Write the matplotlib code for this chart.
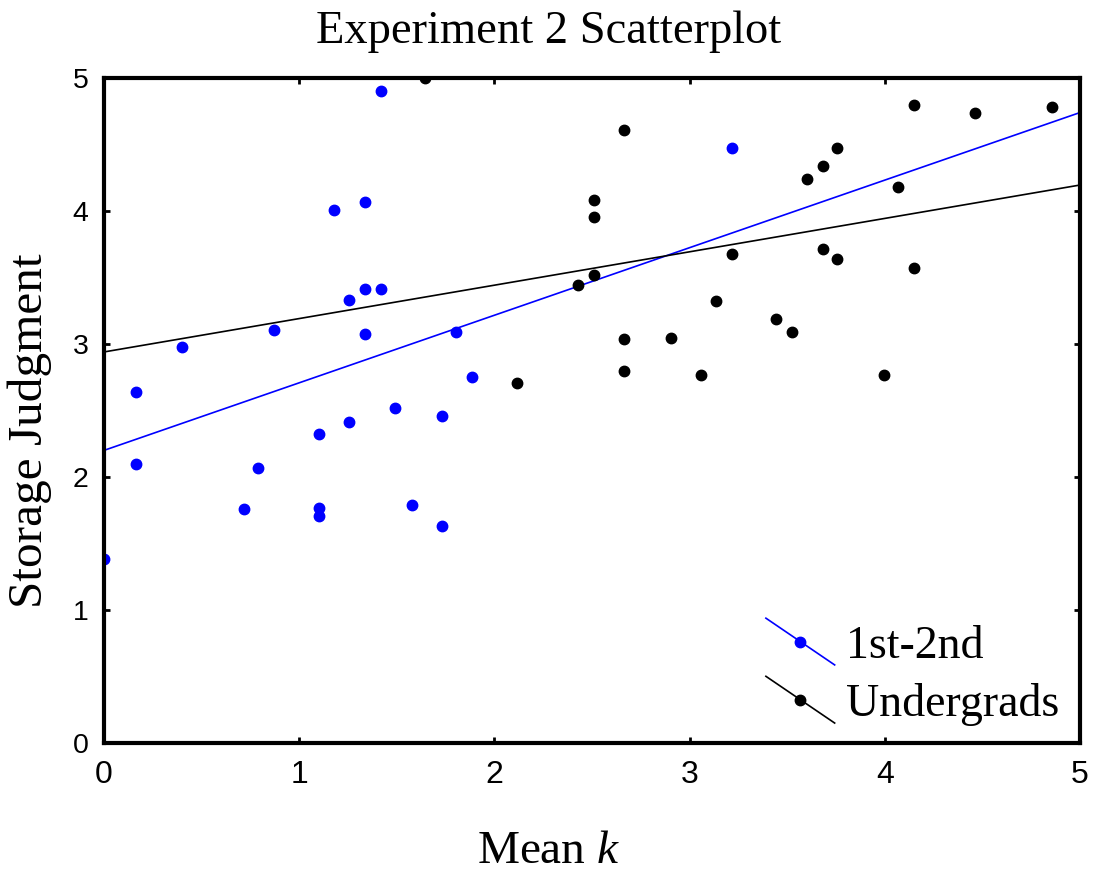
import numpy as np
import matplotlib
matplotlib.use("Agg")
import matplotlib.pyplot as plt
from matplotlib.lines import Line2D
from matplotlib.legend_handler import HandlerBase

# ----------------------------------------------------------------------
# data (Mean k, Storage Judgment)
# ----------------------------------------------------------------------
young_k = [0.0, 0.164, 0.164, 0.40, 0.716, 0.787, 0.871, 1.10, 1.10, 1.10,
           1.18, 1.255, 1.255, 1.337, 1.337, 1.337, 1.42, 1.42, 1.492, 1.576,
           1.73, 1.73, 1.805, 1.887, 3.216]
young_judg = [1.385, 2.64, 2.10, 2.975, 1.76, 2.07, 3.105, 2.32, 1.765, 1.707,
              4.01, 3.33, 2.41, 4.07, 3.41, 3.075, 4.90, 3.41, 2.52, 1.79,
              2.46, 1.63, 3.09, 2.754, 4.476]

ugrad_k = [1.645, 2.117, 2.428, 2.51, 2.51, 2.51, 2.666, 2.666, 2.666, 2.903,
           3.06, 3.134, 3.216, 3.444, 3.526, 3.60, 3.683, 3.683, 3.757, 3.757,
           3.994, 4.07, 4.151, 4.151, 4.46, 4.855]
ugrad_judg = [5.0, 2.71, 3.44, 4.083, 3.953, 3.516, 4.607, 3.035, 2.80, 3.047,
              2.77, 3.325, 3.674, 3.19, 3.09, 4.243, 4.34, 3.717, 4.476, 3.641,
              2.77, 4.18, 4.80, 3.57, 4.74, 4.785]

# fitted regression lines as drawn in the reference (intercept, slope)
young_fit = (2.20, 0.508)
ugrad_fit = (2.94, 0.251)

group_names = ["1st-2nd", "Undergrads"]
ticks = [0, 1, 2, 3, 4, 5]

SERIF = ["Liberation Serif", "DejaVu Serif"]
SANS = ["Liberation Sans", "DejaVu Sans"]

plt.rcParams["mathtext.fontset"] = "custom"
plt.rcParams["mathtext.it"] = "Liberation Serif:italic"
plt.rcParams["mathtext.rm"] = "Liberation Serif"


class DiagonalHandler(HandlerBase):
    """legend key drawn as a falling diagonal line with a dot in the middle"""
    def create_artists(self, legend, orig_handle, xdescent, ydescent,
                       width, height, fontsize, trans):
        x0 = -xdescent
        x1 = x0 + width
        ym = -ydescent + height / 2
        dy = width * 0.34
        line = Line2D([x0, x1], [ym + dy, ym - dy],
                      color=orig_handle.get_color(), lw=1.2)
        dot = Line2D([(x0 + x1) / 2], [ym], marker="o", ls="none",
                     color=orig_handle.get_color(), markersize=7.5)
        line.set_transform(trans)
        dot.set_transform(trans)
        return [line, dot]


fig = plt.figure(figsize=(10.98, 8.73), dpi=100)
ax = fig.add_axes([0.0947, 0.1489, 0.8889, 0.7618])

xx = np.array([0, 5])
handles = []
groups = [(young_k, young_judg, young_fit, "#0000ff"),
          (ugrad_k, ugrad_judg, ugrad_fit, "black")]
for k, j, (icpt, slope), col in groups:
    ax.plot(k, j, "o", color=col, markersize=7.5, zorder=2.2)
    h, = ax.plot(xx, icpt + slope * xx, color=col, lw=1.2, zorder=2)
    handles.append(h)

ax.set_xlim(0, 5)
ax.set_ylim(0, 5)
ax.set_xticks(ticks)
ax.set_yticks(ticks)
for s in ax.spines.values():
    s.set_linewidth(3)
    s.set_zorder(3)
ax.tick_params(direction="in", length=4, width=2, top=True, right=True)
ax.tick_params(axis="x", pad=12, labelsize=23)
ax.tick_params(axis="y", pad=11, labelsize=20.5)
for lab in ax.get_xticklabels() + ax.get_yticklabels():
    lab.set_family(SANS)

# title and axis labels sit centred on the figure, not on the axes
mid = (0.5 - 0.0947) / 0.8889
ax.set_title("Experiment 2 Scatterplot", family=SERIF, fontsize=33.5,
             pad=25, x=mid)
ax.set_xlabel("Mean $k$", family=SERIF, fontsize=34)
ax.xaxis.set_label_coords(mid, -0.132)
ax.set_ylabel("Storage Judgment", family=SERIF, fontsize=35.5)
ax.yaxis.set_label_coords(-0.053, 0.469)

leg = ax.legend(handles, group_names, loc="lower right",
                bbox_to_anchor=(1.0, -0.005), frameon=False,
                prop={"family": SERIF, "size": 33},
                handler_map={Line2D: DiagonalHandler()},
                handlelength=1.5, handletextpad=0.25, labelspacing=0.33,
                borderaxespad=0.05)

fig.savefig("out.png", dpi=100)
